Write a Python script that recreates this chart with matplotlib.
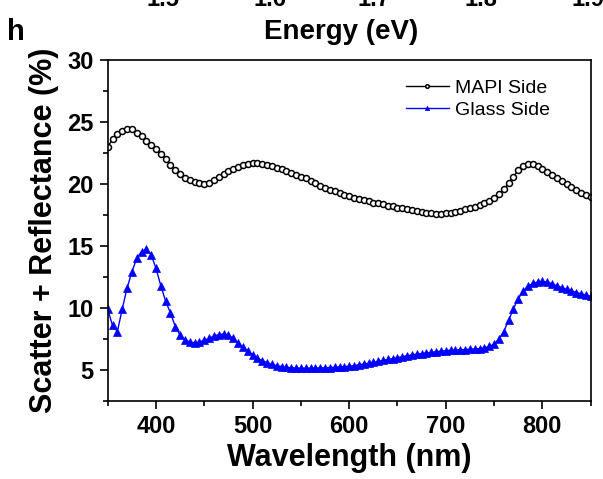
import numpy as np
import matplotlib.pyplot as plt
from matplotlib.ticker import MultipleLocator

plt.rcParams['font.family'] = ['Liberation Sans', 'DejaVu Sans']

# Wavelength grid (nm), values every 5 nm
wavelength = np.arange(350, 851, 5)

mapi_side = [
    23.0, 23.6, 24.0, 24.3, 24.45, 24.4, 24.15, 23.85, 23.5, 23.15,
    22.8, 22.45, 22.0, 21.55, 21.15, 20.8, 20.5, 20.3, 20.15, 20.05,
    20.0, 20.05, 20.3, 20.55, 20.8, 21.05, 21.25, 21.4, 21.55, 21.65,
    21.7, 21.7, 21.65, 21.55, 21.45, 21.3, 21.2, 21.05, 20.9, 20.75,
    20.6, 20.45, 20.25, 20.05, 19.85, 19.7, 19.55, 19.4, 19.25, 19.1,
    19.0, 18.9, 18.8, 18.7, 18.6, 18.5, 18.45, 18.35, 18.25, 18.2,
    18.1, 18.05, 17.95, 17.9, 17.8, 17.75, 17.7, 17.65, 17.6, 17.6,
    17.65, 17.7, 17.75, 17.85, 17.95, 18.05, 18.15, 18.3, 18.45, 18.65,
    18.9, 19.2, 19.6, 20.05, 20.6, 21.1, 21.45, 21.6, 21.6, 21.45,
    21.25, 21.0, 20.75, 20.5, 20.25, 20.0, 19.75, 19.5, 19.3, 19.1,
    18.95,
]

glass_side = [
    9.9, 8.6, 8.1, 9.9, 11.6, 12.9, 14.0, 14.55, 14.75, 14.3,
    13.2, 11.8, 10.55, 9.6, 8.5, 7.8, 7.45, 7.25, 7.2, 7.25,
    7.4, 7.55, 7.75, 7.85, 7.9, 7.8, 7.55, 7.2, 6.85, 6.5,
    6.2, 5.95, 5.75, 5.6, 5.45, 5.35, 5.28, 5.22, 5.18, 5.16,
    5.15, 5.15, 5.15, 5.16, 5.17, 5.18, 5.2, 5.22, 5.25, 5.28,
    5.3, 5.35, 5.42, 5.48, 5.55, 5.62, 5.7, 5.77, 5.85, 5.92,
    6.0, 6.07, 6.15, 6.22, 6.28, 6.33, 6.38, 6.42, 6.48, 6.52,
    6.56, 6.6, 6.62, 6.64, 6.65, 6.67, 6.7, 6.73, 6.78, 6.9,
    7.1, 7.5, 8.1, 9.0, 9.95, 10.75, 11.35, 11.75, 11.98, 12.1,
    12.15, 12.1, 11.95, 11.8, 11.65, 11.5, 11.4, 11.25, 11.15, 11.05,
    10.95,
]

energy_labels = ['1.5', '1.6', '1.7', '1.8', '1.9']
energy_label_x = [163, 270, 374, 481, 588]  # px, cut off by the top edge

fig = plt.figure(figsize=(6.03, 4.79), dpi=100)
ax = fig.add_axes([0.1786, 0.1628, 0.801, 0.7119])

ax.plot(wavelength, mapi_side, color='black', lw=1.0, marker='o', ms=4.3,
        mfc='white', mec='black', mew=1.1, label='MAPI Side')
ax.plot(wavelength, glass_side, color='blue', lw=1.0, marker='^', ms=5.2,
        mfc='blue', mec='blue', mew=0.5, label='Glass Side')

ax.set_xlim(350, 850)
ax.set_ylim(2.5, 30)
ax.xaxis.set_major_locator(MultipleLocator(100))
ax.xaxis.set_minor_locator(MultipleLocator(50))
ax.yaxis.set_major_locator(MultipleLocator(5))
ax.yaxis.set_minor_locator(MultipleLocator(2.5))
ax.tick_params(which='both', direction='out', top=False, right=False, width=1.2)
ax.tick_params(which='major', length=6, labelsize=17, pad=4)
ax.tick_params(which='minor', length=3.5)
for lab in ax.get_xticklabels() + ax.get_yticklabels():
    lab.set_fontweight('bold')
for sp in ax.spines.values():
    sp.set_linewidth(1.2)

ax.set_xlabel('Wavelength (nm)', fontsize=22, fontweight='bold', labelpad=4)
ax.set_ylabel('Scatter + Reflectance (%)', fontsize=22, fontweight='bold', labelpad=6)

leg = ax.legend(loc='upper right', bbox_to_anchor=(0.955, 1.0), frameon=False,
                fontsize=14, handlelength=2.2, handletextpad=0.3, labelspacing=0.2,
                borderaxespad=0.6, markerscale=0.6)

# pieces of the neighbouring panel above
fig.text(341 / 603, 1 - 32 / 479, 'Energy (eV)', ha='center', va='center',
         fontsize=20, fontweight='bold')
fig.text(7 / 603, 1 - 32 / 479, 'h', ha='left', va='center', fontsize=21, fontweight='bold')
for xp, lab in zip(energy_label_x, energy_labels):
    fig.text(xp / 603, 1 - 6 / 479, lab, ha='center', va='baseline',
             fontsize=17, fontweight='bold')

fig.savefig('out.png', dpi=100)
